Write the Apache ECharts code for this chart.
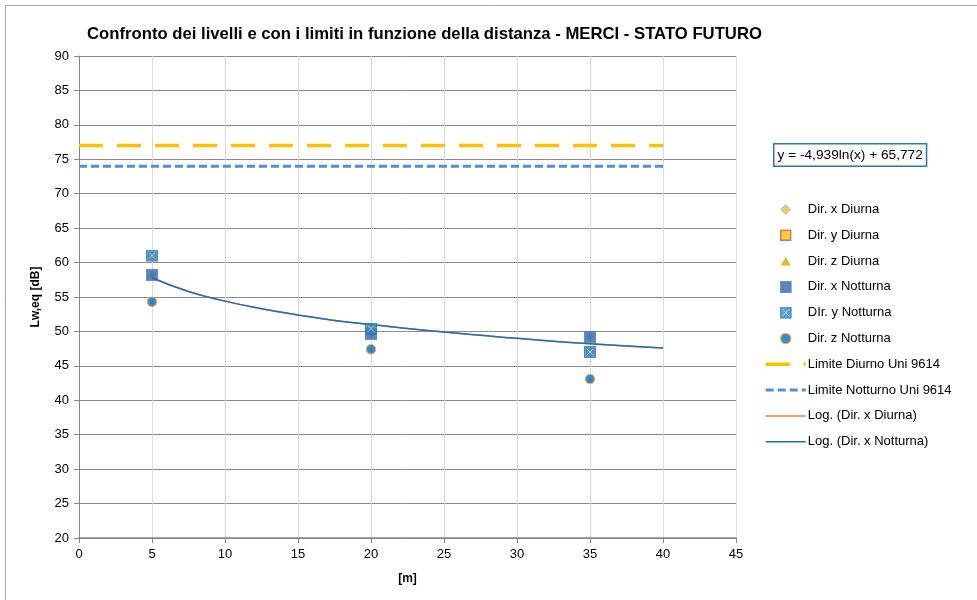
<!DOCTYPE html>
<html>
<head>
<meta charset="utf-8">
<script src="https://cdn.jsdelivr.net/npm/echarts@6/dist/echarts.min.js"></script>
<style>
html,body{margin:0;padding:0;background:#fff;}
#main{width:977px;height:600px;}
</style>
</head>
<body>
<div id="main"></div>
<script>
// distanze [m]
let distances = [5, 20, 35];
// livelli misurati
let dirXDiurna = [58.2, 49.6, 49.2];
let dirYDiurna = [61.0, 50.4, 47.0];
let dirZDiurna = [54.3, 47.4, 43.1];
let dirXNotturna = [58.2, 49.6, 49.2];
let dirYNotturna = [61.0, 50.4, 47.0];
let dirZNotturna = [54.3, 47.4, 43.1];
// limiti
let limitX = [0, 40];
let limiteDiurno = 77;
let limiteNotturno = 74;
// curva di tendenza
let trendX = [5, 7.5, 10, 12.5, 15, 17.5, 20, 25, 30, 35, 40];
let trendY = [57.8, 55.8, 54.4, 53.3, 52.4, 51.6, 51.0, 49.9, 49.0, 48.2, 47.6];
let equation = 'y = -4,939ln(x) + 65,772';

let font = "'Liberation Sans', Arial, sans-serif";

function pairs(xs, ys){
    return xs.map((x, i) => [x, ys[i]]);
}

function svgIcon(body){
    return 'image://data:image/svg+xml;utf8,' + encodeURIComponent(
        '<svg xmlns="http://www.w3.org/2000/svg" width="24" height="24">' + body + '</svg>');
}
// simboli dei marker (immagini, così in legenda restano proporzionati)
let diamondIcon = svgIcon('<path d="M12,2L22,12L12,22L2,12Z" fill="#F5B840" stroke="#8EB4E3" stroke-width="2"/>');
let yellowSquare = svgIcon('<rect x="2" y="2" width="20" height="20" fill="#FFC000" stroke="#C0504D" stroke-width="3"/>');
let triangleIcon = svgIcon('<path d="M12,3L22,21H2Z" fill="#D4B000"/>');
let blueSquare = svgIcon('<rect x="1" y="1" width="22" height="22" fill="#2C67B1" stroke="#4A6FB0" stroke-width="2"/>');
let xSquare = svgIcon('<rect x="1" y="1" width="22" height="22" fill="#2E86C9" stroke="#2668A8" stroke-width="2"/>' +
    '<path d="M5,5L19,19M19,5L5,19" stroke="#9FD3F0" stroke-width="2"/>');
let circleIcon = svgIcon('<circle cx="12" cy="12" r="10.5" fill="#0A70C8" stroke="#F0A030" stroke-width="2.5"/>');
// simbolo invisibile, per avere in legenda solo la linea
let noSymbol = svgIcon('');

let myChart = echarts.init(document.getElementById('main'));

myChart.setOption({
    backgroundColor: '#fff',
    animation: false,
    title: {
        text: 'Confronto dei livelli e con i limiti in funzione della distanza - MERCI - STATO FUTURO',
        left: 82,
        top: 21,
        textStyle: {fontFamily: font, fontSize: 16.7, fontWeight: 'bold', color: '#000'}
    },
    graphic: [
        {
            type: 'rect',
            shape: {x: 5.5, y: 5.5, width: 1000, height: 600},
            style: {fill: 'none', stroke: '#A6A6A6', lineWidth: 1},
            silent: true
        },
        {
            type: 'text',
            left: 773,
            top: 143,
            style: {
                text: equation,
                font: '13.7px ' + font,
                fill: '#000',
                backgroundColor: '#fff',
                borderColor: '#2E75B6',
                borderWidth: 1.5,
                padding: [4, 3, 3, 3]
            }
        }
    ],
    legend: {
        orient: 'vertical',
        left: 759,
        top: 198,
        itemWidth: 40,
        itemHeight: 12,
        itemGap: 12.8,
        lineStyle: {width: 'inherit'},
        textStyle: {fontFamily: font, fontSize: 13, color: '#000', padding: [0, 0, 0, -3]},
        data: ['Dir. x Diurna', 'Dir. y Diurna', 'Dir. z Diurna', 'Dir. x Notturna', 'DIr. y Notturna',
            'Dir. z Notturna', 'Limite Diurno Uni 9614', 'Limite Notturno Uni 9614',
            'Log. (Dir. x Diurna)', 'Log. (Dir. x Notturna)']
    },
    grid: {left: 79, right: 241, top: 56, bottom: 62, containLabel: false},
    xAxis: {
        type: 'value',
        min: 0,
        max: 45,
        interval: 5,
        name: '[m]',
        nameLocation: 'middle',
        nameGap: 35,
        nameTextStyle: {fontFamily: font, fontSize: 12, fontWeight: 'bold', color: '#000'},
        axisLine: {show: true, onZero: false, lineStyle: {color: '#868686', width: 1.5}},
        axisTick: {show: true, inside: false, length: 5, lineStyle: {color: '#868686'}},
        axisLabel: {fontFamily: font, fontSize: 13, color: '#000', margin: 10},
        splitLine: {show: true, lineStyle: {color: '#D9D9D9', width: 1}}
    },
    yAxis: {
        type: 'value',
        min: 20,
        max: 90,
        interval: 5,
        name: 'Lw,eq [dB]',
        nameLocation: 'middle',
        nameGap: 37,
        nameRotate: 90,
        nameTextStyle: {fontFamily: font, fontSize: 12, fontWeight: 'bold', color: '#000'},
        axisLine: {show: true, lineStyle: {color: '#868686', width: 1}},
        axisTick: {show: true, inside: false, length: 5, lineStyle: {color: '#868686'}},
        axisLabel: {fontFamily: font, fontSize: 13, color: '#000', margin: 10},
        splitLine: {show: true, lineStyle: {color: '#8C8C8C', width: 1}}
    },
    series: [
        {
            name: 'Dir. x Diurna', type: 'scatter', z: 2,
            symbol: diamondIcon, symbolSize: 8,
            itemStyle: {color: '#F5B840'},
            data: pairs(distances, dirXDiurna)
        },
        {
            name: 'Dir. y Diurna', type: 'scatter', z: 2,
            symbol: yellowSquare, symbolSize: 8,
            itemStyle: {color: '#FFC000'},
            data: pairs(distances, dirYDiurna)
        },
        {
            name: 'Dir. z Diurna', type: 'scatter', z: 2,
            symbol: triangleIcon, symbolSize: 7,
            itemStyle: {color: '#D4B000'},
            data: pairs(distances, dirZDiurna)
        },
        {
            name: 'Log. (Dir. x Diurna)', type: 'line', z: 3,
            smooth: true, symbol: noSymbol, showSymbol: false,
            lineStyle: {color: '#ED7D31', width: 1.5},
            itemStyle: {color: '#ED7D31'},
            data: pairs(trendX, trendY)
        },
        {
            name: 'Log. (Dir. x Notturna)', type: 'line', z: 4,
            smooth: true, symbol: noSymbol, showSymbol: false,
            lineStyle: {color: '#1F6FC0', width: 1.5},
            itemStyle: {color: '#1F6FC0'},
            data: pairs(trendX, trendY)
        },
        {
            name: 'Limite Diurno Uni 9614', type: 'line', z: 3,
            symbol: noSymbol, showSymbol: false,
            lineStyle: {color: '#FFC000', width: 3.5, type: [24, 14]},
            itemStyle: {color: '#FFC000'},
            data: limitX.map(x => [x, limiteDiurno])
        },
        {
            name: 'Limite Notturno Uni 9614', type: 'line', z: 3,
            symbol: noSymbol, showSymbol: false,
            lineStyle: {color: '#558ED5', width: 3, type: [8, 4]},
            itemStyle: {color: '#558ED5'},
            data: limitX.map(x => [x, limiteNotturno])
        },
        {
            name: 'Dir. x Notturna', type: 'scatter', z: 5,
            symbol: blueSquare, symbolSize: 12,
            itemStyle: {color: '#2C67B1'},
            data: pairs(distances, dirXNotturna)
        },
        {
            name: 'DIr. y Notturna', type: 'scatter', z: 5,
            symbol: xSquare, symbolSize: 12,
            itemStyle: {color: '#2E86C9'},
            data: pairs(distances, dirYNotturna)
        },
        {
            name: 'Dir. z Notturna', type: 'scatter', z: 5,
            symbol: circleIcon, symbolSize: 11,
            itemStyle: {color: '#0A70C8'},
            data: pairs(distances, dirZNotturna)
        }
    ]
});
</script>
</body>
</html>
